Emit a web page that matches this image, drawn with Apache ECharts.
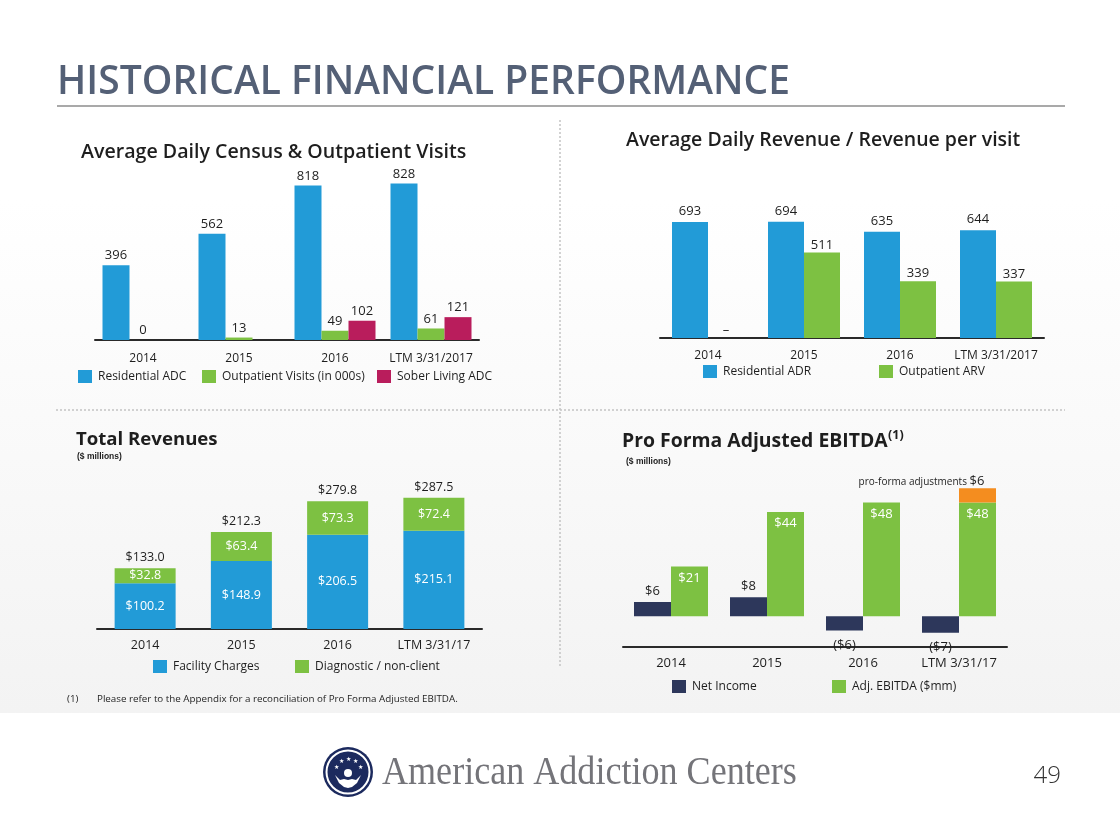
<!DOCTYPE html>
<html>
<head>
<meta charset="utf-8">
<script src="https://cdn.jsdelivr.net/npm/echarts@6/dist/echarts.min.js"></script>
<style>
html,body{margin:0;padding:0;background:#fff;}
#c{width:1120px;height:840px;}
</style>
</head>
<body>
<div id="c"></div>
<script>
// ---- data ----
const catsA = ['2014', '2015', '2016', 'LTM 3/31/2017'];
const residentialADC = [396, 562, 818, 828];
const outpatientVisits = [0, 13, 49, 61];
const soberLivingADC = [null, null, 102, 121];

const catsB = ['2014', '2015', '2016', 'LTM 3/31/2017'];
const residentialADR = [693, 694, 635, 644];
const outpatientARV = [0, 511, 339, 337];

const catsC = ['2014', '2015', '2016', 'LTM 3/31/17'];
const facilityCharges = [100.2, 148.9, 206.5, 215.1];
const diagnostic = [32.8, 63.4, 73.3, 72.4];
const totalRevenue = [133.0, 212.3, 279.8, 287.5];

const catsD = ['2014', '2015', '2016', 'LTM 3/31/17'];
const netIncome = [6, 8, -6, -7];
const adjEBITDA = [21, 44, 48, 48];
const proFormaAdj = [null, null, null, 6];

// ---- styles ----
const BLUE = '#229bd7', GREEN = '#7dc142', RED = '#b91d5c', NAVY = '#2d375b', ORANGE = '#f48d1f';
const FONT = "'Open Sans', 'Noto Sans', sans-serif";
const TXT = '#1e1e1e';

const chart = echarts.init(document.getElementById('c'), null, {renderer: 'canvas'});

function xAxisFor(idx, cats, size, margin) {
  return {
    gridIndex: idx, type: 'category', data: cats,
    axisLine: {onZero: false, lineStyle: {color: '#2a2a2a', width: 2}},
    axisTick: {show: false},
    axisLabel: {color: TXT, fontFamily: FONT, fontSize: size, margin: margin, interval: 0}
  };
}
function yAxisFor(idx, min, max) {
  return {gridIndex: idx, type: 'value', min: min, max: max, show: false, splitLine: {show: false}};
}
function lbl(pos, size, color, extra) {
  return Object.assign({show: true, position: pos, fontFamily: FONT, fontSize: size, color: color}, extra || {});
}
function legendItem(name, left, top) {
  return {
    data: [name], left: left, top: top, padding: 0, icon: 'rect', itemWidth: 14, itemHeight: 13, itemGap: 6,
    selectedMode: false,
    textStyle: {fontFamily: FONT, fontSize: 12, color: TXT, padding: [0, 0, 0, 1]}
  };
}
function star(x, y) {
  return {type: 'text', x: x, y: y, style: {text: '★', fontSize: 6, fill: '#fff', textAlign: 'center', textVerticalAlign: 'middle'}};
}

const money1 = v => '$' + Number(v).toFixed(1);
const moneyNI = v => v < 0 ? '($' + (-v) + ')' : '$' + v;

const option = {
  backgroundColor: 'transparent',
  animation: false,
  grid: [
    {left: 95, width: 384, top: 170, height: 170},
    {left: 660, width: 384, top: 204, height: 134},
    {left: 97, width: 385, top: 492, height: 137},
    {left: 623, width: 384, top: 474, height: 173}
  ],
  xAxis: [
    xAxisFor(0, catsA, 12, 13),
    xAxisFor(1, catsB, 12, 12),
    xAxisFor(2, catsC, 12.5, 10),
    xAxisFor(3, catsD, 13, 10)
  ],
  yAxis: [
    yAxisFor(0, 0, 900),
    yAxisFor(1, 0, 800),
    yAxisFor(2, 0, 300),
    yAxisFor(3, -13, 60)
  ],
  legend: [
    legendItem('Residential ADC', 78, 370),
    legendItem('Outpatient Visits (in 000s)', 202, 370),
    legendItem('Sober Living ADC', 377, 370),
    legendItem('Residential ADR', 703, 365),
    legendItem('Outpatient ARV', 879, 365),
    legendItem('Facility Charges', 153, 660),
    legendItem('Diagnostic / non-client', 295, 660),
    legendItem('Net Income', 672, 680),
    legendItem('Adj. EBITDA ($mm)', 832, 680)
  ],
  series: [
    // Panel A
    {name: 'Residential ADC', type: 'bar', xAxisIndex: 0, yAxisIndex: 0, barWidth: 27, barGap: '0%',
     itemStyle: {color: BLUE}, data: residentialADC, label: lbl('top', 13, TXT, {distance: 3})},
    {name: 'Outpatient Visits (in 000s)', type: 'bar', xAxisIndex: 0, yAxisIndex: 0, barWidth: 27, barGap: '0%',
     itemStyle: {color: GREEN}, data: outpatientVisits, label: lbl('top', 13, TXT, {distance: 3})},
    {name: 'Sober Living ADC', type: 'bar', xAxisIndex: 0, yAxisIndex: 0, barWidth: 27, barGap: '0%',
     itemStyle: {color: RED}, data: soberLivingADC, label: lbl('top', 13, TXT, {distance: 3})},
    // Panel B
    {name: 'Residential ADR', type: 'bar', xAxisIndex: 1, yAxisIndex: 1, barWidth: 36, barGap: '0%',
     itemStyle: {color: BLUE}, data: residentialADR, label: lbl('top', 13, TXT, {distance: 4})},
    {name: 'Outpatient ARV', type: 'bar', xAxisIndex: 1, yAxisIndex: 1, barWidth: 36, barGap: '0%',
     itemStyle: {color: GREEN}, data: outpatientARV,
     label: lbl('top', 13, TXT, {distance: 1, formatter: p => p.value === 0 ? '–' : p.value})},
    // Panel C
    {name: 'Facility Charges', type: 'bar', stack: 'rev', xAxisIndex: 2, yAxisIndex: 2, barWidth: 61,
     itemStyle: {color: BLUE}, data: facilityCharges,
     label: lbl('inside', 12.5, '#ffffff', {formatter: p => money1(p.value)})},
    {name: 'Diagnostic / non-client', type: 'bar', stack: 'rev', xAxisIndex: 2, yAxisIndex: 2, barWidth: 61,
     itemStyle: {color: GREEN}, data: diagnostic,
     label: lbl('inside', 12.5, '#ffffff', {formatter: p => money1(p.value)})},
    {name: 'Total', type: 'bar', stack: 'rev', xAxisIndex: 2, yAxisIndex: 2, barWidth: 61,
     itemStyle: {color: 'rgba(0,0,0,0)'}, data: totalRevenue.map(() => 0),
     label: lbl('top', 12.5, TXT, {distance: 4, formatter: p => money1(totalRevenue[p.dataIndex])})},
    // Panel D
    {name: 'Net Income', type: 'bar', xAxisIndex: 3, yAxisIndex: 3, barWidth: 37, barGap: '0%',
     itemStyle: {color: NAVY},
     data: netIncome.map(v => ({value: v, label: v < 0 ? {position: 'bottom', distance: 8} : {position: 'top', distance: 4}})),
     label: lbl('top', 13, TXT, {formatter: p => moneyNI(p.value)})},
    {name: 'Adj. EBITDA ($mm)', type: 'bar', stack: 'ebitda', xAxisIndex: 3, yAxisIndex: 3, barWidth: 37, barGap: '0%',
     itemStyle: {color: GREEN}, data: adjEBITDA,
     label: lbl('insideTop', 13, '#ffffff', {distance: 5, formatter: p => '$' + p.value})},
    {name: 'pro-forma adjustments', type: 'bar', stack: 'ebitda', xAxisIndex: 3, yAxisIndex: 3, barWidth: 37, barGap: '0%',
     itemStyle: {color: ORANGE}, data: proFormaAdj,
     label: lbl('top', 10, TXT, {
       distance: 0, offset: [-56, 0],
       formatter: p => '{a|pro-forma adjustments} {b|$' + p.value + '}',
       rich: {a: {fontFamily: FONT, fontSize: 10, color: TXT}, b: {fontFamily: FONT, fontSize: 13, color: TXT}}
     })}
  ],
  graphic: [
    // background
    {type: 'rect', z: -10, silent: true, shape: {x: 0, y: 0, width: 1120, height: 713},
     style: {fill: new echarts.graphic.LinearGradient(0, 0, 0, 1, [
       {offset: 0, color: '#ffffff'}, {offset: 0.28, color: '#ffffff'}, {offset: 1, color: '#f3f3f3'}])}},
    // main title
    {type: 'text', x: 57, y: 83, scaleX: 0.975, style: {text: 'HISTORICAL FINANCIAL PERFORMANCE',
      fontFamily: FONT, fontWeight: 600, fontSize: 40, fill: '#546076', textVerticalAlign: 'middle'}},
    {type: 'line', shape: {x1: 57, y1: 106, x2: 1065, y2: 106}, style: {stroke: '#a9a9a9', lineWidth: 2}},
    // dotted separators
    {type: 'line', shape: {x1: 560, y1: 120, x2: 560, y2: 666}, style: {stroke: '#c4c4c4', lineWidth: 1.5, lineDash: [2, 2]}},
    {type: 'line', shape: {x1: 56, y1: 410, x2: 1065, y2: 410}, style: {stroke: '#c4c4c4', lineWidth: 1.5, lineDash: [2, 2]}},
    // panel titles
    {type: 'text', x: 81, y: 152, style: {text: 'Average Daily Census & Outpatient Visits', fontFamily: FONT, fontWeight: 600, fontSize: 19.6, fill: TXT, textVerticalAlign: 'middle'}},
    {type: 'text', x: 626, y: 140, style: {text: 'Average Daily Revenue / Revenue per visit', fontFamily: FONT, fontWeight: 600, fontSize: 19.5, fill: TXT, textVerticalAlign: 'middle'}},
    {type: 'text', x: 76, y: 440, style: {text: 'Total Revenues', fontFamily: FONT, fontWeight: 700, fontSize: 18.6, fill: TXT, textVerticalAlign: 'middle'}},
    {type: 'text', x: 77, y: 457, style: {text: '($ millions)', fontFamily: "'Liberation Sans', Arial, sans-serif", fontWeight: 'bold', fontSize: 8.5, fill: TXT, textVerticalAlign: 'middle'}},
    {type: 'text', x: 622, y: 441, style: {text: 'Pro Forma Adjusted EBITDA', fontFamily: FONT, fontWeight: 700, fontSize: 19.4, fill: TXT, textVerticalAlign: 'middle'}},
    {type: 'text', x: 888, y: 435, style: {text: '(1)', fontFamily: FONT, fontWeight: 700, fontSize: 12.5, fill: TXT, textVerticalAlign: 'middle'}},
    {type: 'text', x: 626, y: 462, style: {text: '($ millions)', fontFamily: "'Liberation Sans', Arial, sans-serif", fontWeight: 'bold', fontSize: 8.5, fill: TXT, textVerticalAlign: 'middle'}},
    // footnote
    {type: 'text', x: 67, y: 699, style: {text: '(1)', fontFamily: FONT, fontSize: 9.8, fill: TXT, textVerticalAlign: 'middle'}},
    {type: 'text', x: 97, y: 699, style: {text: 'Please refer to the Appendix for a reconciliation of Pro Forma Adjusted EBITDA.', fontFamily: FONT, fontSize: 9.8, fill: TXT, textVerticalAlign: 'middle'}},
    // logo
    {type: 'group', x: 348, y: 772, children: [
      {type: 'circle', shape: {cx: 0, cy: 0, r: 25}, style: {fill: '#1c2a5e'}},
      {type: 'circle', shape: {cx: 0, cy: 0, r: 21.5}, style: {fill: 'none', stroke: '#ffffff', lineWidth: 2}},
      {type: 'circle', shape: {cx: 0, cy: 1, r: 4}, style: {fill: '#ffffff'}},
      {type: 'polygon', shape: {points: [[-13, 3], [-9, 11], [-4, 15], [0, 16], [4, 15], [9, 11], [13, 3], [8, 8], [4, 7], [0, 8], [-4, 7], [-8, 8]]}, style: {fill: '#ffffff'}},
      star(-12, -5), star(-7, -11), star(0, -13), star(7, -11), star(12, -5)
    ]},
    {type: 'text', x: 382, y: 773, scaleX: 0.88, style: {text: 'American Addiction Centers', fontFamily: "'Liberation Serif', 'DejaVu Serif', serif", fontSize: 41, fill: '#747479', textVerticalAlign: 'middle'}},
    {type: 'text', x: 1061, y: 776, style: {text: '49', fontFamily: FONT, fontWeight: 300, fontSize: 24, fill: '#333333', textAlign: 'right', textVerticalAlign: 'middle'}}
  ]
};
chart.setOption(option);
</script>
</body>
</html>
